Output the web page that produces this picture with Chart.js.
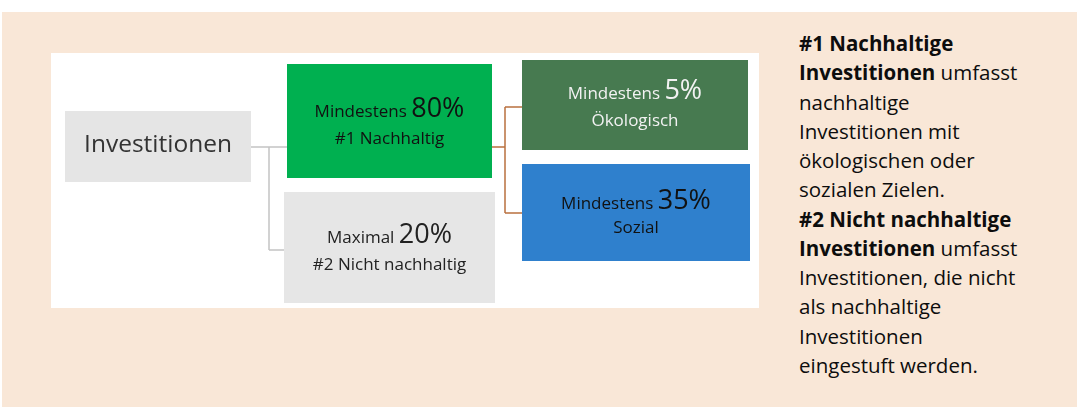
<!DOCTYPE html>
<html lang="de">
<head>
  <meta charset="UTF-8">
  <title>Investitionen – Aufteilung</title>
  <script src="https://cdn.jsdelivr.net/npm/chart.js"></script>
  <style>
body {
  margin: 0;
  width: 1077px;
  height: 407px;
  background: #fff;
  position: relative;
  overflow: hidden;
  font-family: "Open Sans", sans-serif;
}

.panel {
  position: absolute;
  left: 2px;
  top: 12px;
  width: 1075px;
  height: 395px;
  background: #f9e7d7;
}

.chart-box {
  position: absolute;
  left: 51px;
  top: 53px;
  width: 708px;
  height: 255px;
  background: #fff;
}

.note {
  position: absolute;
  left: 799px;
  top: 29px;
  font-size: 20.5px;
  line-height: 29.25px;
  color: #0d0d0d;
}
  </style>
</head>
<body>

  <div class="panel"></div>

  <div class="chart-box">
    <canvas id="treeChart"></canvas>
  </div>

  <div class="note">
    <b>#1 Nachhaltige</b><br>
    <b>Investitionen</b> umfasst<br>
    nachhaltige<br>
    Investitionen mit<br>
    ökologischen oder<br>
    sozialen Zielen.<br>
    <b>#2 Nicht nachhaltige</b><br>
    <b>Investitionen</b> umfasst<br>
    Investitionen, die nicht<br>
    als nachhaltige<br>
    Investitionen<br>
    eingestuft werden.
  </div>

  <script>
    // data
    const nodeNames = ['Investitionen', '#1 Nachhaltig', '#2 Nicht nachhaltig', 'Ökologisch', 'Sozial'];
    const nodePrefix = ['', 'Mindestens', 'Maximal', 'Mindestens', 'Mindestens'];
    const nodeShare = [null, 80, 20, 5, 35];
    const nodeParent = [-1, 0, 0, 1, 1];

    // layout in panel units (0..708 x 0..255)
    const boxes = [[14, 58, 200, 129], [236, 11, 441, 125], [233, 139, 444, 250], [471, 7, 697, 97], [471, 111, 699, 208]];
    const textY = [[98.7], [63.7, 91.3], [190.3, 217], [46.3, 72.7], [156, 180.3]];
    const linkY = [94, 94, 197, 54, 160];     // where a child's connector enters
    const exitY = { 0: 94, 1: 94 };           // where a parent's connector leaves
    const trunkX = { 0: 218, 1: 454 };
    const linkColor = { 0: '#c4c4c4', 1: '#b9703f' };
    const fills = ['#e5e5e5', '#00b050', '#e6e6e6', '#477a50', '#2f80cd'];
    const inks = ['#333333', '#111111', '#222222', '#f2f2f2', '#111111'];

    const treePlugin = {
      id: 'tree',
      afterDraw(chart) {
        const c = chart.ctx;
        const px = v => chart.scales.x.getPixelForValue(v);
        const py = v => chart.scales.y.getPixelForValue(v);
        c.save();

        // connectors
        Object.keys(trunkX).forEach(p => {
          p = Number(p);
          const kids = nodeParent.map((q, i) => q === p ? i : -1).filter(i => i >= 0);
          const ys = [exitY[p]].concat(kids.map(k => linkY[k]));
          c.strokeStyle = linkColor[p];
          c.lineWidth = 1.5;
          c.beginPath();
          c.moveTo(px(boxes[p][2]), py(exitY[p]));
          c.lineTo(px(trunkX[p]), py(exitY[p]));
          c.moveTo(px(trunkX[p]), py(Math.min(...ys)));
          c.lineTo(px(trunkX[p]), py(Math.max(...ys)));
          kids.forEach(k => {
            c.moveTo(px(trunkX[p]), py(linkY[k]));
            c.lineTo(px(boxes[k][0]), py(linkY[k]));
          });
          c.stroke();
        });

        // boxes
        boxes.forEach((b, i) => {
          c.fillStyle = fills[i];
          c.fillRect(px(b[0]), py(b[1]), px(b[2]) - px(b[0]), py(b[3]) - py(b[1]));
        });

        // labels
        c.textBaseline = 'alphabetic';
        c.textAlign = 'left';
        boxes.forEach((b, i) => {
          const cx = px((b[0] + b[2]) / 2);
          c.fillStyle = inks[i];
          if (nodeShare[i] === null) {
            c.font = '24.5px "Open Sans"';
            const w = c.measureText(nodeNames[i]).width;
            c.fillText(nodeNames[i], cx - w / 2, py(textY[i][0]));
            return;
          }
          const small = '500 17px "Open Sans"';
          const big = '27px "Open Sans"';
          const pre = nodePrefix[i] + ' ';
          const num = nodeShare[i] + '%';
          c.font = small;
          const w1 = c.measureText(pre).width;
          c.font = big;
          const w2 = c.measureText(num).width;
          const x0 = cx - (w1 + w2) / 2;
          c.font = small;
          c.fillText(pre, x0, py(textY[i][0]));
          c.font = big;
          c.fillText(num, x0 + w1, py(textY[i][0]));
          c.font = small;
          const w3 = c.measureText(nodeNames[i]).width;
          c.fillText(nodeNames[i], cx - w3 / 2, py(textY[i][1]));
        });
        c.restore();
      }
    };

    const ctx = document.getElementById('treeChart').getContext('2d');
    const treeChart = new Chart(ctx, {
      type: 'scatter',
      data: {
        datasets: [{
          label: 'Knoten',
          data: boxes.map(b => ({ x: (b[0] + b[2]) / 2, y: (b[1] + b[3]) / 2 })),
          pointRadius: 0
        }]
      },
      options: {
        responsive: true,
        maintainAspectRatio: false,
        animation: false,
        events: [],
        layout: { padding: 0 },
        plugins: {
          legend: { display: false },
          tooltip: { enabled: false }
        },
        scales: {
          x: { type: 'linear', min: 0, max: 708, display: false },
          y: { type: 'linear', min: 0, max: 255, reverse: true, display: false }
        }
      },
      plugins: [treePlugin]
    });
  </script>

</body>
</html>
